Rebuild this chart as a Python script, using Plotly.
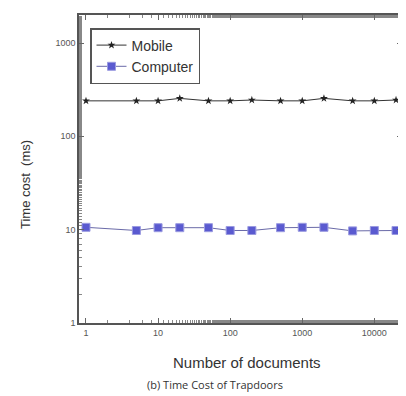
import plotly.graph_objects as go

docs = [1, 5, 10, 20, 50, 100, 200, 500, 1000, 2000, 5000, 10000, 20000]
mobile_ms = [240, 240, 240, 255, 240, 240, 245, 240, 240, 255, 240, 240, 245]
computer_ms = [10.6, 9.8, 10.5, 10.5, 10.5, 9.8, 9.8, 10.5, 10.6, 10.6, 9.7, 9.8, 9.8]
x_tick_vals = [1, 10, 100, 1000, 10000]
x_tick_text = ["1", "10", "100", "1000", "10000"]
y_tick_vals = [1, 10, 100, 1000]
y_tick_text = ["1", "10", "100", "1000"]

fig = go.Figure()
fig.add_trace(go.Scatter(
    x=docs, y=mobile_ms, name="Mobile", mode="lines+markers",
    line=dict(color="#333333", width=1),
    marker=dict(symbol="star", size=6, color="#222222"),
))
fig.add_trace(go.Scatter(
    x=docs, y=computer_ms, name="Computer", mode="lines+markers",
    line=dict(color="#6a6aa8", width=1),
    marker=dict(symbol="square", size=8, color="#5a5ad0",
                line=dict(color="#9a9ae0", width=1)),
))

axis_common = dict(
    type="log", showgrid=False, zeroline=False, automargin=False,
    showline=True, linecolor="#555555", linewidth=1.5, mirror="ticks",
    ticks="inside", ticklen=5, tickcolor="#666666",
    tickfont=dict(family="Liberation Sans, Arial", size=9, color="#555555"),
    minor=dict(ticks="inside", ticklen=3, tickcolor="#888888", showgrid=False),
)

fig.update_xaxes(**axis_common, range=[-0.097, 4.384],
                 tickvals=x_tick_vals, ticktext=x_tick_text)
fig.update_yaxes(**axis_common, range=[0, 3.3],
                 tickvals=y_tick_vals, ticktext=y_tick_text)

# page body has an 8px margin: figure drawn at (8, 8)
OFF = 8
W, H = 406 - OFF, 396 - OFF
L, R, T, B = 79 - OFF, 4, 15 - OFF, 73
pw, ph = W - L - R, H - T - B

def px(x):
    return (x - OFF - L) / pw

def py(y):
    return (H - B - (y - OFF)) / ph

fig.update_layout(
    width=W, height=H,
    margin=dict(l=L, r=R, t=T, b=B),
    paper_bgcolor="white", plot_bgcolor="white",
    showlegend=True,
    legend=dict(x=px(90), y=py(28), xanchor="left", yanchor="top",
                bgcolor="white", bordercolor="#555555", borderwidth=1.5,
                font=dict(family="Liberation Sans, Arial", size=14, color="#333333"),
                tracegroupgap=0, itemwidth=30),
    annotations=[
        dict(text="Time cost  (ms)", xref="paper", yref="paper",
             x=px(25), y=py(185), xanchor="center", yanchor="middle",
             textangle=-90, showarrow=False,
             font=dict(family="Liberation Sans, Arial", size=13, color="#333333")),
        dict(text="Number of documents", xref="paper", yref="paper",
             x=px(247), y=py(362), xanchor="center", yanchor="middle",
             showarrow=False,
             font=dict(family="Liberation Sans, Arial", size=15, color="#333333")),
        dict(text="(b) Time Cost of Trapdoors", xref="paper", yref="paper",
             x=px(215), y=py(384), xanchor="center", yanchor="middle",
             showarrow=False,
             font=dict(family="Open Sans, Liberation Sans", size=11, color="#333333")),
    ],
)

fig.write_html("out.html")
